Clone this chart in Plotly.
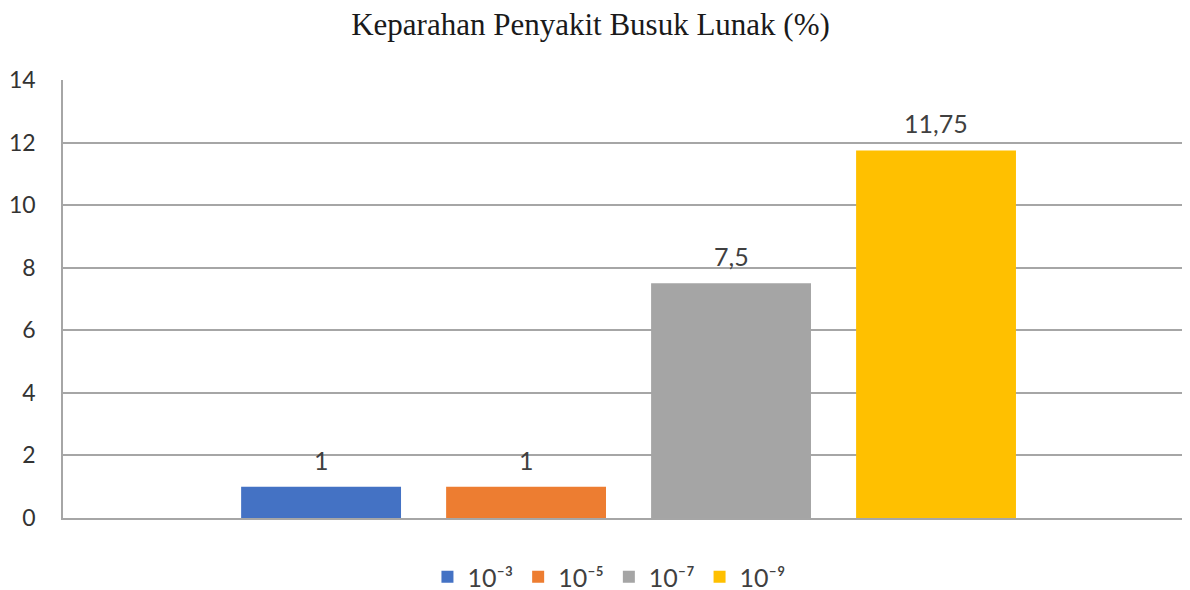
import plotly.graph_objects as go

series_names = ["10⁻³", "10⁻⁵", "10⁻⁷", "10⁻⁹"]
values = [1, 1, 7.5, 11.75]
value_labels = ["1", "1", "7,5", "11,75"]
colors = ["#4472C4", "#ED7D31", "#A5A5A5", "#FFC000"]
y_ticks = [0, 2, 4, 6, 8, 10, 12, 14]

fig = go.Figure()
for name, v, c in zip(series_names, values, colors):
    fig.add_trace(go.Bar(
        x=[name], y=[v], name=name,
        marker=dict(color=c, line=dict(width=0)),
        width=0.78,
    ))

for name, v, lab in zip(series_names, values, value_labels):
    fig.add_annotation(
        x=name, y=v, text=lab, showarrow=False,
        yshift=27, yanchor="middle",
        font=dict(family="Lato, Open Sans, sans-serif", size=25, color="#404040"),
    )

fig.update_layout(
    width=1190, height=590,
    margin=dict(l=55, r=0, t=72, b=80, autoexpand=False),
    paper_bgcolor="white", plot_bgcolor="white",
    barmode="overlay",
    title=dict(
        text="Keparahan Penyakit Busuk Lunak (%)",
        x=0.4895, xanchor="center", xref="container",
        y=1 - 16 / 590, yanchor="middle", yref="container",
        font=dict(family="Liberation Serif, Times New Roman, serif", size=31, color="#1a1a1a"),
    ),
    xaxis=dict(
        type="category",
        range=[-1.259, 4.278],
        showticklabels=False, ticks="",
        showgrid=False, showline=True, linecolor="#a6a6a6", linewidth=1.5,
        zeroline=False, fixedrange=True, automargin=False,
    ),
    yaxis=dict(
        range=[0, 14], tickvals=y_ticks,
        showgrid=True, gridcolor="#a6a6a6", gridwidth=1.5,
        showline=True, linecolor="#a6a6a6", linewidth=1.5,
        zeroline=False, ticks="", ticklabelstandoff=21, automargin=False,
        tickfont=dict(family="Lato, Open Sans, sans-serif", size=23, color="#333333"),
    ),
    legend=dict(
        orientation="h", xref="container", x=0.505, xanchor="center",
        yref="container", y=21 / 590, yanchor="middle",
        font=dict(family="Lato, Open Sans, sans-serif", size=25, color="#404040"),
        itemwidth=30, traceorder="normal",
    ),
    showlegend=True,
)

fig.write_html("out.html")
